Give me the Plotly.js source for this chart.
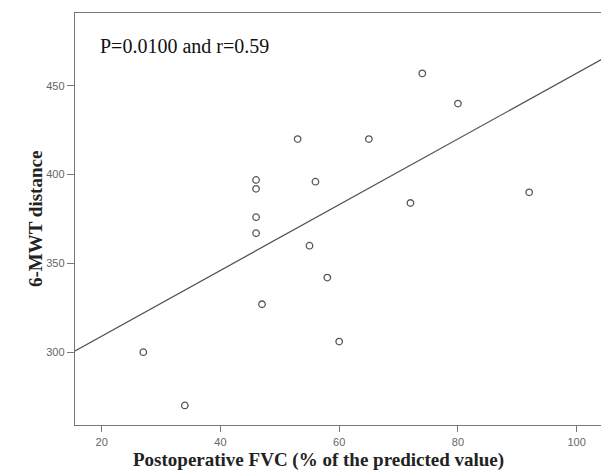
<!DOCTYPE html>
<html>
<head>
<meta charset="utf-8">
<script src="https://cdn.plot.ly/plotly-3.0.1.min.js"></script>
<style>html,body{margin:0;padding:0;background:#fff;overflow:hidden;}#wrap{width:601px;height:471px;overflow:hidden;}#chart{width:620px;height:471px;}</style>
</head>
<body>
<div id="wrap"><div id="chart"></div></div>
<script>
// Data
const fvc = [27, 34, 47, 46, 46, 46, 46, 53, 74, 80, 65, 56, 72, 92, 55, 58, 60];
const walk = [300, 270, 327, 397, 392, 376, 367, 420, 457, 440, 420, 396, 384, 390, 360, 342, 306];
// Fit line end points as drawn in the reference (runs past the right edge)
const fitX = [15.5, 107.3];
const fitY = [300.7, 470.6];
const xTicks = [20, 40, 60, 80, 100];
const yTicks = [300, 350, 400, 450];
const xTitle = "Postoperative FVC (% of the predicted value)";
const yTitle = "6-MWT distance";
const statText = "P=0.0100 and r=0.59";

const serif = "Liberation Serif, Times New Roman, serif";
const sans = "Liberation Sans, Arial, sans-serif";

const traces = [
  {
    x: fitX, y: fitY, type: "scatter", mode: "lines",
    line: {color: "#555", width: 1.3}, hoverinfo: "skip", showlegend: false
  },
  {
    x: fvc, y: walk, type: "scatter", mode: "markers",
    marker: {symbol: "circle-open", size: 6.5, color: "#555", line: {width: 1.3, color: "#555"}},
    showlegend: false
  }
];

const layout = {
  width: 620, height: 471,
  margin: {l: 75, r: 0, t: 13, b: 46},
  paper_bgcolor: "#fff", plot_bgcolor: "#fff",
  showlegend: false,
  xaxis: {
    range: [15.5, 107.3], tickvals: xTicks, ticktext: xTicks.map(String),
    showgrid: false, zeroline: false, showline: true, mirror: true,
    linecolor: "#777", linewidth: 1.3,
    ticks: "outside", ticklen: 6, tickcolor: "#777", tickwidth: 1,
    tickfont: {family: sans, size: 11, color: "#666"}
  },
  yaxis: {
    range: [259, 491], tickvals: yTicks, ticktext: yTicks.map(String),
    showgrid: false, zeroline: false, showline: true, mirror: false,
    linecolor: "#777", linewidth: 1.3,
    ticks: "outside", ticklen: 7, tickcolor: "#777", tickwidth: 1,
    tickfont: {family: sans, size: 11, color: "#666"}
  },
  annotations: [
    {
      text: statText, xref: "paper", yref: "paper",
      x: 0.0417, y: 0.92, xanchor: "left", yanchor: "middle", showarrow: false,
      font: {family: serif, size: 20, color: "#111"}
    },
    {
      text: "<b>" + xTitle + "</b>", xref: "paper", yref: "paper",
      x: 0.446, y: -0.085, xanchor: "center", yanchor: "middle", showarrow: false,
      font: {family: serif, size: 19, color: "#222"}
    },
    {
      text: "<b>" + yTitle + "</b>", xref: "paper", yref: "paper", textangle: -90,
      x: -0.0734, y: 0.5, xanchor: "center", yanchor: "middle", showarrow: false,
      font: {family: serif, size: 19, color: "#222"}
    }
  ]
};

Plotly.newPlot("chart", traces, layout, {displayModeBar: false, staticPlot: true});
</script>
</body>
</html>
